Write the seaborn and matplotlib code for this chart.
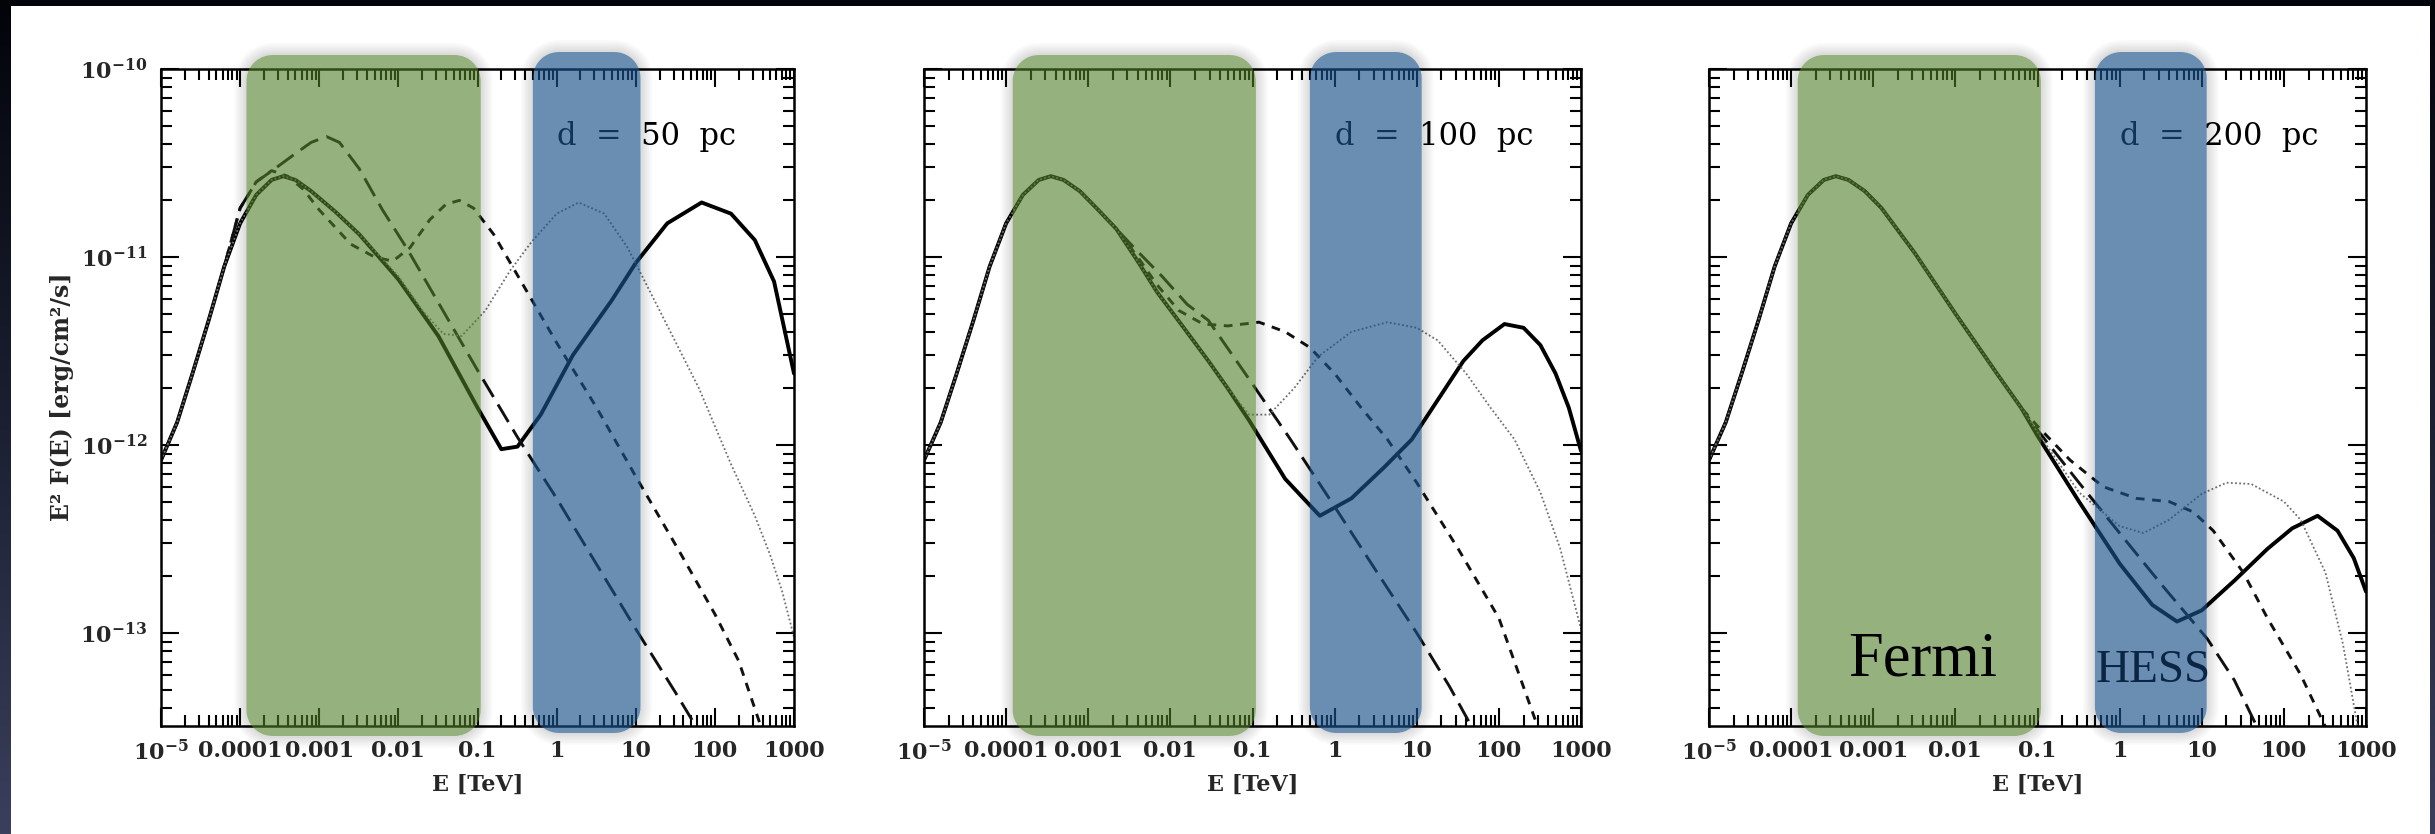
import numpy as np
import pandas as pd
import matplotlib
matplotlib.use("Agg")
import matplotlib.pyplot as plt
import seaborn as sns
from matplotlib.patches import Polygon, PathPatch, Rectangle
from matplotlib.path import Path
from matplotlib.transforms import IdentityTransform
from matplotlib.colors import LinearSegmentedColormap
from matplotlib.ticker import FixedLocator, FixedFormatter, LogLocator, NullFormatter

# ---------------- spectra: E in TeV, E^2 F(E) in erg/cm^2/s ----------------
# low-energy bump shared by every curve
E_RISE = [1.0e-5, 1.6e-5, 2.5e-5, 4.0e-5, 6.3e-5]
F_RISE = [8.3e-13, 1.32e-12, 2.4e-12, 4.6e-12, 8.9e-12]
E_PEAK = [1.0e-4, 1.6e-4, 2.5e-4, 3.5e-4, 5.0e-4, 7.9e-4]
F_PEAK = [1.51e-11, 2.14e-11, 2.57e-11, 2.69e-11, 2.57e-11, 2.24e-11]

# d = 50 pc
E_50_SOLID = [1.6e-3, 3.2e-3, 1e-2, 3.2e-2, 0.1, 0.2, 0.32, 0.63, 1.6, 5.0, 10, 25, 68, 160, 320, 560, 1000]
F_50_SOLID = [1.74e-11, 1.32e-11, 7.6e-12, 3.8e-12, 1.58e-12, 9.5e-13, 9.8e-13, 1.45e-12, 3.0e-12, 5.9e-12,
              9.3e-12, 1.51e-11, 1.95e-11, 1.70e-11, 1.23e-11, 7.4e-12, 2.4e-12]
E_50_LONG = [1.0e-4, 1.6e-4, 2.75e-4, 5.0e-4, 7.9e-4, 1.23e-3, 1.8e-3, 3.2e-3, 6.3e-3, 1.3e-2, 2.8e-2, 0.1,
             0.32, 1, 2.5, 10, 32, 71]
F_50_LONG = [1.82e-11, 2.51e-11, 2.95e-11, 3.55e-11, 4.07e-11, 4.37e-11, 4.07e-11, 2.95e-11, 1.78e-11, 1.10e-11,
             6.3e-12, 2.5e-12, 1.1e-12, 5.2e-13, 2.75e-13, 1.05e-13, 4.8e-14, 2.75e-14]
E_50_SHORT = [1.0e-4, 1.6e-4, 2.5e-4, 4.0e-4, 6.3e-4, 1.0e-3, 2.5e-3, 5.0e-3, 8.5e-3, 1.4e-2, 2.5e-2, 4.0e-2,
              5.9e-2, 8.9e-2, 0.16, 0.26, 1, 3.2, 10, 35, 100, 200, 400]
F_50_SHORT = [1.82e-11, 2.51e-11, 2.88e-11, 2.69e-11, 2.29e-11, 1.78e-11, 1.17e-11, 1.0e-11, 9.5e-12, 1.12e-11,
              1.58e-11, 1.91e-11, 2.0e-11, 1.82e-11, 1.32e-11, 9.3e-12, 3.5e-12, 1.58e-12, 6.8e-13, 2.75e-13,
              1.26e-13, 7.1e-14, 3.0e-14]
E_50_DOT = [1.6e-3, 3.2e-3, 1e-2, 2e-2, 3.7e-2, 6.3e-2, 0.126, 0.26, 0.48, 1, 1.9, 4, 7.9, 20, 63, 160, 320,
            500, 710, 1000]
F_50_DOT = [1.74e-11, 1.32e-11, 7.9e-12, 5.2e-12, 3.9e-12, 3.8e-12, 5.2e-12, 8.5e-12, 1.2e-11, 1.7e-11, 1.95e-11,
            1.7e-11, 1.12e-11, 5.2e-12, 2.0e-12, 7.9e-13, 4.2e-13, 2.6e-13, 1.66e-13, 9.5e-14]

# d = 100 pc
E_100_FALL = [1.26e-3, 2.2e-3]
F_100_FALL = [1.82e-11, 1.41e-11]
E_100_SOLID = [4.0e-3, 6.9e-3, 1.4e-2, 2.9e-2, 5.0e-2, 9.1e-2, 0.25, 0.66, 1.6, 4.0, 8.7, 20, 37, 63, 117, 200,
               320, 490, 710, 1000]
F_100_SOLID = [9.5e-12, 6.5e-12, 4.3e-12, 2.8e-12, 2.0e-12, 1.35e-12, 6.6e-13, 4.2e-13, 5.2e-13, 7.6e-13,
               1.07e-12, 1.86e-12, 2.8e-12, 3.6e-12, 4.4e-12, 4.2e-12, 3.4e-12, 2.4e-12, 1.58e-12, 9.3e-13]
E_100_LONG = [4.0e-3, 7.9e-3, 1.6e-2, 2.9e-2, 9.1e-2, 0.29, 1, 3.2, 10, 25, 50]
F_100_LONG = [1.07e-11, 7.9e-12, 5.6e-12, 4.6e-12, 2.24e-12, 1.07e-12, 4.7e-13, 2.14e-13, 1.0e-13, 5.2e-14,
              3.0e-14]
E_100_SHORT = [4.0e-3, 6.9e-3, 1.26e-2, 2.5e-2, 5.0e-2, 0.12, 0.25, 0.5, 1, 2.1, 4.4, 10, 32, 100, 295]
F_100_SHORT = [1.0e-11, 7.1e-12, 5.2e-12, 4.4e-12, 4.3e-12, 4.5e-12, 4.0e-12, 3.3e-12, 2.4e-12, 1.58e-12,
               1.07e-12, 6.3e-13, 2.8e-13, 1.2e-13, 3.2e-14]
E_100_DOT = [4.0e-3, 6.9e-3, 1.4e-2, 2.9e-2, 5.0e-2, 9.1e-2, 0.16, 0.32, 0.63, 1.6, 4.4, 10, 18, 40, 79, 155,
             320, 560, 1000]
F_100_DOT = [9.5e-12, 6.5e-12, 4.3e-12, 2.8e-12, 2.0e-12, 1.45e-12, 1.45e-12, 2.0e-12, 2.95e-12, 4.0e-12,
             4.5e-12, 4.2e-12, 3.6e-12, 2.4e-12, 1.58e-12, 1.07e-12, 5.6e-13, 2.8e-13, 1.05e-13]

# d = 200 pc
E_200_FALL = [1.26e-3, 3.2e-3, 1.0e-2, 3.2e-2, 6.3e-2]
F_200_FALL = [1.82e-11, 1.05e-11, 5.0e-12, 2.4e-12, 1.58e-12]
E_200_SOLID = [0.1, 0.32, 1, 2.5, 5.0, 10, 25, 63, 126, 257, 450, 710, 1000]
F_200_SOLID = [1.12e-12, 5.0e-13, 2.34e-13, 1.41e-13, 1.15e-13, 1.32e-13, 1.9e-13, 2.8e-13, 3.6e-13, 4.2e-13,
               3.5e-13, 2.5e-13, 1.66e-13]
E_200_LONG = [0.1, 0.32, 1, 3.2, 11.7, 25, 50]
F_200_LONG = [1.2e-12, 6.3e-13, 3.4e-13, 1.82e-13, 9.3e-14, 5.6e-14, 3.0e-14]
E_200_SHORT = [0.1, 0.25, 0.63, 1.6, 4.0, 7.9, 13.8, 32, 63, 160, 340]
F_200_SHORT = [1.26e-12, 8.3e-13, 6.0e-13, 5.2e-13, 5.0e-13, 4.4e-13, 3.5e-13, 2.1e-13, 1.2e-13, 6.0e-14, 3.0e-14]
E_200_DOT = [0.1, 0.32, 1, 1.95, 4.0, 10, 20, 40, 100, 160, 320, 525, 810]
F_200_DOT = [1.17e-12, 5.6e-13, 3.7e-13, 3.4e-13, 4.0e-13, 5.5e-13, 6.3e-13, 6.2e-13, 5.0e-13, 4.0e-13, 2.1e-13,
             8.7e-14, 3.0e-14]

PANEL_LABELS = ["d  =  50  pc", "d  =  100  pc", "d  =  200  pc"]
CURVES = ["solid", "long", "short", "dotted"]

X_TICKS = [1e-5, 1e-4, 1e-3, 1e-2, 1e-1, 1, 10, 100, 1000]
X_TICK_LABELS = [r"$\mathbf{10^{-5}}$", "0.0001", "0.001", "0.01", "0.1", "1", "10", "100", "1000"]
Y_TICKS = [1e-13, 1e-12, 1e-11, 1e-10]
Y_TICK_LABELS = [r"$\mathbf{10^{-13}}$", r"$\mathbf{10^{-12}}$", r"$\mathbf{10^{-11}}$", r"$\mathbf{10^{-10}}$"]
X_LIM = (1e-5, 1e3)
Y_LIM = (3.2e-14, 1e-10)

FERMI_BAND = (1.2e-4, 0.11)
HESS_BAND = (0.5, 11.5)


def panel_curves(i):
    """Assemble the four spectra (E, F lists) of panel i."""
    if i == 0:
        base_e = E_RISE + E_PEAK
        base_f = F_RISE + F_PEAK
        return {
            "solid": (base_e + E_50_SOLID, base_f + F_50_SOLID),
            "long": (E_RISE + E_50_LONG, F_RISE + F_50_LONG),
            "short": (E_RISE + E_50_SHORT, F_RISE + F_50_SHORT),
            "dotted": (base_e + E_50_DOT, base_f + F_50_DOT),
        }
    if i == 1:
        base_e = E_RISE + E_PEAK + E_100_FALL
        base_f = F_RISE + F_PEAK + F_100_FALL
        return {
            "solid": (base_e + E_100_SOLID, base_f + F_100_SOLID),
            "long": (base_e + E_100_LONG, base_f + F_100_LONG),
            "short": (base_e + E_100_SHORT, base_f + F_100_SHORT),
            "dotted": (base_e + E_100_DOT, base_f + F_100_DOT),
        }
    base_e = E_RISE + E_PEAK + E_200_FALL
    base_f = F_RISE + F_PEAK + F_200_FALL
    return {
        "solid": (base_e + E_200_SOLID, base_f + F_200_SOLID),
        "long": (base_e + E_200_LONG, base_f + F_200_LONG),
        "short": (base_e + E_200_SHORT, base_f + F_200_SHORT),
        "dotted": (base_e + E_200_DOT, base_f + F_200_DOT),
    }


def panel_frame(i):
    rows = []
    for name, (es, fs) in panel_curves(i).items():
        for e, f in zip(es, fs):
            rows.append({"E": e, "F": f, "curve": name})
    return pd.DataFrame(rows)


# ---------------- figure layout ----------------
W, H, DPI = 2435, 834, 100
AX_PIX = [(161, 794), (924, 1581), (1709, 2366)]   # left / right edge of each frame
AX_TOP, AX_BOTTOM = 69, 726

sns.set_theme(style="ticks")
plt.rcParams.update({
    "font.family": ["DejaVu Serif"],
    "font.weight": "bold",
    "mathtext.fontset": "dejavuserif",
    "axes.linewidth": 1.8,
    "axes.edgecolor": "black",
    "axes.facecolor": "white",
})

PALETTE = {"solid": "#000000", "long": "#111111", "short": "#111111", "dotted": "#707070"}
SIZES = {"solid": 2.8, "long": 2.1, "short": 2.1, "dotted": 1.3}
DASHES = {"solid": "", "long": (7, 3), "short": (3, 2.6), "dotted": (1, 1.3)}

fig = plt.figure(figsize=(W / DPI, H / DPI), dpi=DPI)
fig.patch.set_facecolor("#070810")

# slide backdrop: dark gradient frame with a white page
bg = fig.add_axes([0, 0, 1, 1], zorder=-10)
bg.set_axis_off()
frame_cmap = LinearSegmentedColormap.from_list("frame", ["#03040a", "#1b1f31", "#3a3f5c"])
bg.imshow(np.linspace(0, 1, 256)[:, None], cmap=frame_cmap, aspect="auto",
          extent=[0, 1, 0, 1], origin="upper")
bg.add_patch(Rectangle((11 / W, 0), (2430 - 11) / W, (H - 6) / H, transform=bg.transAxes,
                       facecolor="white", edgecolor="none"))
bg.set_xlim(0, 1)
bg.set_ylim(0, 1)


def rounded_rect(x0, y0, w, h, r, n=14):
    """Counter-clockwise outline of a rounded rectangle (pixel units)."""
    corners = [(x0 + w - r, y0 + h - r, 0, 90), (x0 + r, y0 + h - r, 90, 180),
               (x0 + r, y0 + r, 180, 270), (x0 + w - r, y0 + r, 270, 360)]
    pts = []
    for cx, cy, a0, a1 in corners:
        t = np.radians(np.linspace(a0, a1, n))
        pts.append(np.column_stack([cx + r * np.cos(t), cy + r * np.sin(t)]))
    return np.vstack(pts)


def ring_path(outer, inner):
    """Outer outline with the inner outline cut out (opposite winding)."""
    inner = inner[::-1]
    verts = np.vstack([outer, outer[:1], inner, inner[:1]])
    codes = ([Path.MOVETO] + [Path.LINETO] * (len(outer) - 1) + [Path.CLOSEPOLY]
             + [Path.MOVETO] + [Path.LINETO] * (len(inner) - 1) + [Path.CLOSEPOLY])
    return Path(verts, codes)


def draw_band(x0, x1, y0, y1, color, alpha, radius=26):
    """Rounded translucent band with a soft halo outside it, in pixel units."""
    w, h = x1 - x0, y1 - y0
    inner = rounded_rect(x0, y0, w, h, radius)
    for k in range(1, 8):
        g = 1.7 * k
        outer = rounded_rect(x0 - g, y0 - g, w + 2 * g, h + 2 * g, radius + g)
        fig.add_artist(PathPatch(ring_path(outer, inner), transform=IdentityTransform(),
                                 facecolor="black", edgecolor="none", alpha=0.02, zorder=9))
    fig.add_artist(Polygon(inner, closed=True, transform=IdentityTransform(), facecolor=color,
                           edgecolor="none", alpha=alpha, zorder=10))


for i, (left, right) in enumerate(AX_PIX):
    ax = fig.add_axes([left / W, (H - AX_BOTTOM) / H, (right - left) / W, (AX_BOTTOM - AX_TOP) / H])
    df = panel_frame(i)
    sns.lineplot(data=df, x="E", y="F", hue="curve", style="curve", size="curve",
                 hue_order=CURVES, style_order=CURVES, size_order=CURVES,
                 palette=PALETTE, dashes=DASHES, sizes=SIZES,
                 estimator=None, sort=False, legend=False, ax=ax)
    ax.set_xscale("log")
    ax.set_yscale("log")
    ax.set_xlim(*X_LIM)
    ax.set_ylim(*Y_LIM)

    ax.xaxis.set_major_locator(FixedLocator(X_TICKS))
    ax.xaxis.set_major_formatter(FixedFormatter(X_TICK_LABELS))
    ax.xaxis.set_minor_locator(LogLocator(base=10, subs=np.arange(2, 10), numticks=100))
    ax.xaxis.set_minor_formatter(NullFormatter())
    ax.yaxis.set_major_locator(FixedLocator(Y_TICKS))
    if i == 0:
        ax.yaxis.set_major_formatter(FixedFormatter(Y_TICK_LABELS))
    else:
        ax.yaxis.set_major_formatter(NullFormatter())
    ax.yaxis.set_minor_locator(LogLocator(base=10, subs=np.arange(2, 10), numticks=100))
    ax.yaxis.set_minor_formatter(NullFormatter())

    ax.tick_params(which="both", direction="in", top=True, right=True, width=1.5, color="black")
    ax.tick_params(which="major", length=13, labelsize=16, pad=10)
    ax.tick_params(which="minor", length=8)

    ax.set_xlabel("E [TeV]", fontsize=16, fontweight="bold", labelpad=6)
    ax.set_ylabel("")
    ax.text(0.625, 0.897, PANEL_LABELS[i], transform=ax.transAxes, ha="left", va="center",
            fontsize=22, fontweight="normal", color="black")

    # instrument energy ranges overlaid as rounded bands
    y_top = ax.transAxes.transform((0, 1))[1]
    y_bot = ax.transAxes.transform((0, 0))[1]
    fx0 = ax.transData.transform((FERMI_BAND[0], 1e-12))[0]
    fx1 = ax.transData.transform((FERMI_BAND[1], 1e-12))[0]
    hx0 = ax.transData.transform((HESS_BAND[0], 1e-12))[0]
    hx1 = ax.transData.transform((HESS_BAND[1], 1e-12))[0]
    draw_band(fx0, fx1, y_bot - 10, y_top + 14, "#4f7d26", 0.6)
    draw_band(hx0, hx1, y_bot - 7, y_top + 17, "#1a5089", 0.65)

fig.text(62 / W, (H - 397) / H, "E² F(E) [erg/cm²/s]", rotation=90, ha="center", va="center",
         fontsize=17, fontweight="bold")

fig.text(1848 / W, (H - 675) / H, "Fermi", fontsize=45, family=["Liberation Serif"],
         fontweight="normal", ha="left", va="baseline", color="black", zorder=12)
fig.text(2096 / W, (H - 682) / H, "HESS", fontsize=34, family=["Liberation Serif"],
         fontweight="normal", ha="left", va="baseline", color="#0b2545", zorder=12)

fig.savefig("out.png", dpi=DPI, facecolor=fig.get_facecolor())
